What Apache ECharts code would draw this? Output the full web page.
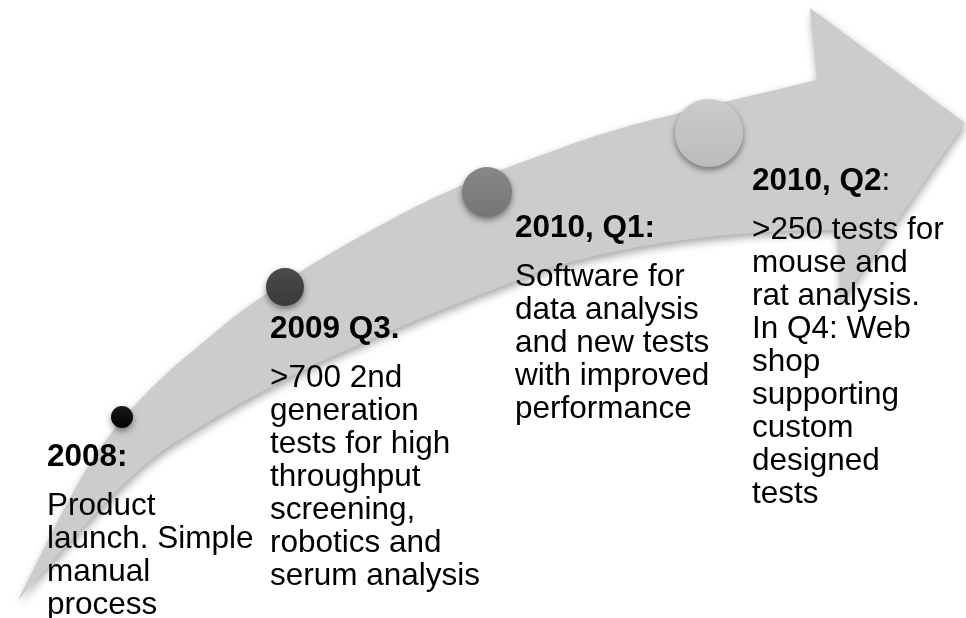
<!DOCTYPE html>
<html><head><meta charset="utf-8">
<script src="https://cdn.jsdelivr.net/npm/echarts@6/dist/echarts.min.js"></script>
<style>html,body{margin:0;padding:0;background:#fff}#c{width:966px;height:618px}</style>
</head><body><div id="c"></div><script>
// ---- data ----
const titles = ['2008:', '2009 Q3.', '2010, Q1:', '2010, Q2'];
const titleTails = ['', '', '', ':'];
const descriptions = [
  'Product\nlaunch. Simple\nmanual\nprocess',
  '>700 2nd\ngeneration\ntests for high\nthroughput\nscreening,\nrobotics and\nserum analysis',
  'Software for\ndata analysis\nand new tests\nwith improved\nperformance',
  '>250 tests for\nmouse and\nrat analysis.\nIn Q4: Web\nshop\nsupporting\ncustom\ndesigned\ntests'
];
// milestone positions along the arrow (diagram coordinates)
const milestoneX = [122, 285, 487, 709];
const milestoneY = [417, 287, 192, 133];

// ---- layout (diagram coordinates) ----
const arrowUpper = [[18,600],[80,480],[122,420],[165,375],[200,345],[250,305],[333,252],[440,195],[550,152],[640,123],[817,80]];
const arrowHead = [[810,8],[965,123],[840,303]];
const arrowLower = [[837,230],[750,233],[650,245],[560,265],[500,287],[400,327],[300,372],[200,427],[128,480],[18,600]];
const labelX = [47, 270, 515, 752];
const labelY = [457, 329, 228, 181];
const dotR = [11, 19, 25, 34];
const dotColors = [['#1a1a1a','#000000'],['#4a4a4a','#3a3a3a'],['#888888','#757575'],['#cbcbcb','#bbbbbb']];
const FONT = '"Liberation Sans", Arial, sans-serif';
const FS = 31.5, LH = 33, GAP = 49;

function catmull(pts, n) {
  const out = [];
  for (let i = 0; i < pts.length - 1; i++) {
    const p0 = pts[Math.max(i-1,0)], p1 = pts[i], p2 = pts[i+1], p3 = pts[Math.min(i+2, pts.length-1)];
    for (let k = 0; k < n; k++) {
      const t = k/n, t2 = t*t, t3 = t2*t;
      const f = j => 0.5*((2*p1[j]) + (-p0[j]+p2[j])*t + (2*p0[j]-5*p1[j]+4*p2[j]-p3[j])*t2 + (-p0[j]+3*p1[j]-3*p2[j]+p3[j])*t3);
      out.push([f(0), f(1)]);
    }
  }
  out.push(pts[pts.length-1]);
  return out;
}

const chart = echarts.init(document.getElementById('c'), null, {renderer:'canvas'});
chart.setOption({
  animation: false,
  backgroundColor: '#ffffff',
  grid: {left:0, right:0, top:0, bottom:0},
  xAxis: {type:'value', min:0, max:966, show:false},
  yAxis: {type:'value', min:0, max:618, inverse:true, show:false},
  series: [
    {
      type: 'custom', z: 1,
      data: [[0,0]],
      renderItem: function(params, api) {
        const pts = [].concat(catmull(arrowUpper, 12), arrowHead, catmull(arrowLower, 12)).map(p => api.coord(p));
        return {
          type: 'polygon',
          shape: {points: pts},
          style: {fill:'#cccccc', shadowBlur:8, shadowColor:'rgba(0,0,0,0.35)', shadowOffsetX:1, shadowOffsetY:4}
        };
      }
    },
    {
      type: 'custom', z: 2,
      data: milestoneX.map((x, i) => [x, milestoneY[i]]),
      renderItem: function(params, api) {
        const i = params.dataIndex;
        const c = api.coord([api.value(0), api.value(1)]);
        const t = api.coord([labelX[i], labelY[i]]);
        return {
          type: 'group',
          children: [
            {
              type: 'circle',
              shape: {cx:c[0], cy:c[1], r:dotR[i]},
              style: {
                fill: new echarts.graphic.LinearGradient(0,0,0,1,[{offset:0,color:dotColors[i][0]},{offset:1,color:dotColors[i][1]}]),
                shadowBlur: 6, shadowColor:'rgba(0,0,0,0.45)', shadowOffsetY: 3
              }
            },
            {
              type: 'text',
              style: {
                x: t[0], y: t[1],
                text: '{b|' + titles[i] + '}' + titleTails[i],
                fontSize: FS, fontFamily: FONT, fill: '#000',
                verticalAlign: 'middle', align: 'left',
                rich: {b: {fontSize: FS, fontFamily: FONT, fontWeight: 'bold', fill:'#000'}}
              }
            },
            {
              type: 'text',
              style: {
                x: t[0], y: t[1] + GAP - LH/2,
                text: descriptions[i],
                fontSize: FS, fontFamily: FONT, fill: '#000',
                lineHeight: LH, verticalAlign: 'top', align: 'left'
              }
            }
          ]
        };
      }
    }
  ]
});
</script></body></html>
